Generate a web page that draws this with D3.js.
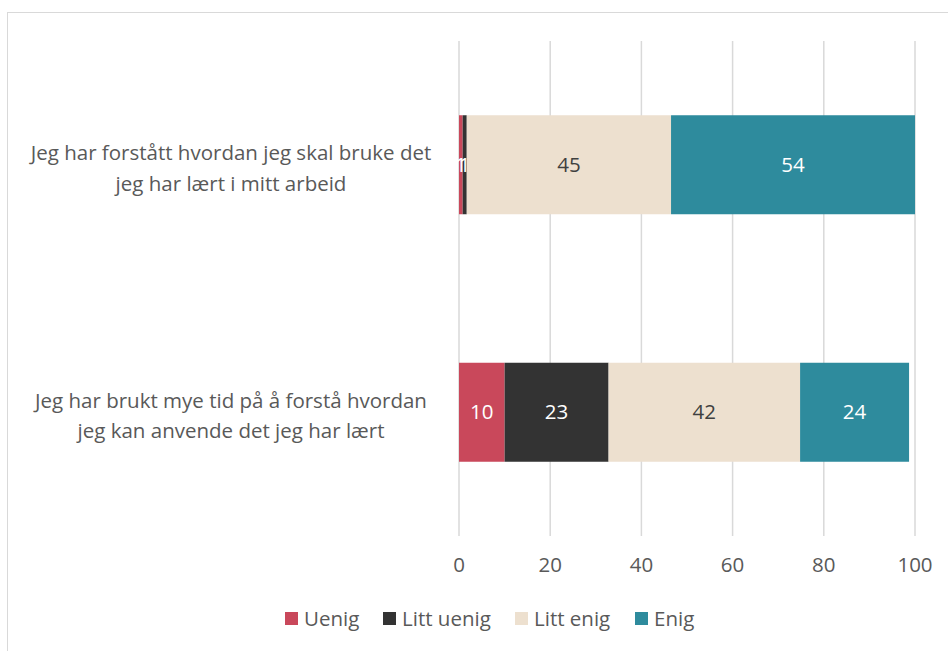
<!DOCTYPE html>
<html>
<head>
<meta charset="utf-8">
<script src="https://cdn.jsdelivr.net/npm/d3@7"></script>
<style>
body { margin: 0; background: #fff; }
text { font-family: "Open Sans", "Liberation Sans", sans-serif; }
</style>
</head>
<body>
<div id="chart"></div>
<script>
let canvasWidth = 948;
let canvasHeight = 651;

// data
let categories = [
    ["Jeg har forstått hvordan jeg skal bruke det", "jeg har lært i mitt arbeid"],
    ["Jeg har brukt mye tid på å forstå hvordan", "jeg kan anvende det jeg har lært"]
];
let seriesNames = ["Uenig", "Litt uenig", "Litt enig", "Enig"];
let uenig = [0.8, 10];
let littUenig = [0.9, 22.8];
let littEnig = [44.8, 42];
let enig = [53.5, 23.9];
let xTicks = [0, 20, 40, 60, 80, 100];
let colors = ["#C9485B", "#333333", "#EDE0CF", "#2E8B9D"];
let labelColors = ["#fff", "#fff", "#404040", "#fff"];

let series = [uenig, littUenig, littEnig, enig];

let svg = d3.select("div#chart")
    .append("svg")
    .attr("width", canvasWidth)
    .attr("height", canvasHeight);

// chart border
svg.append("rect")
    .attr("x", 7.5).attr("y", 12.5)
    .attr("width", canvasWidth).attr("height", canvasHeight)
    .attr("fill", "none")
    .attr("stroke", "#D9D9D9");

let xScale = d3.scaleLinear().domain([0, 100]).range([459, 915]);
let yScale = d3.scaleBand().domain(d3.range(categories.length)).range([41, 536]).paddingInner(0.6).paddingOuter(0.3);

// grid
svg.append("g")
    .selectAll("line")
    .data(xTicks)
    .join("line")
    .attr("x1", d => xScale(d)).attr("x2", d => xScale(d))
    .attr("y1", 41).attr("y2", 536)
    .attr("stroke", "#D9D9D9")
    .attr("stroke-width", 1.5);

// stacked rows
let rows = categories.map((c, i) => {
    let x0 = 0;
    return series.map((s, k) => {
        let seg = { cat: i, k: k, v: s[i], x0: x0, x1: x0 + s[i] };
        x0 += s[i];
        return seg;
    });
}).flat();

let bars = svg.append("g");
bars.selectAll("rect")
    .data(rows)
    .join("rect")
    .attr("x", d => xScale(d.x0))
    .attr("y", d => yScale(d.cat))
    .attr("width", d => xScale(d.x1) - xScale(d.x0))
    .attr("height", yScale.bandwidth())
    .attr("fill", d => colors[d.k]);

bars.selectAll("text")
    .data(rows)
    .join("text")
    .attr("x", d => (xScale(d.x0) + xScale(d.x1)) / 2)
    .attr("y", d => yScale(d.cat) + yScale.bandwidth() / 2)
    .attr("dy", "0.35em")
    .attr("text-anchor", "middle")
    .attr("font-size", 20.5)
    .attr("fill", d => labelColors[d.k])
    .text(d => Math.round(d.v));

// category labels
svg.append("g")
    .selectAll("text")
    .data(categories)
    .join("text")
    .attr("x", 231)
    .attr("y", (d, i) => yScale(i) + yScale.bandwidth() / 2)
    .attr("text-anchor", "middle")
    .attr("font-size", 20.5)
    .attr("fill", "#595959")
    .selectAll("tspan")
    .data(d => d)
    .join("tspan")
    .attr("x", 231)
    .attr("dy", (d, j) => j === 0 ? "-0.22em" : "1.5em")
    .text(d => d);

// x axis labels
svg.append("g")
    .selectAll("text")
    .data(xTicks)
    .join("text")
    .attr("x", d => xScale(d))
    .attr("y", 572)
    .attr("text-anchor", "middle")
    .attr("font-size", 20.5)
    .attr("fill", "#595959")
    .text(d => d);

// legend
let legendX = [285, 383, 515, 635];
let legend = svg.append("g")
    .selectAll("g")
    .data(seriesNames)
    .join("g")
    .attr("transform", (d, i) => "translate(" + legendX[i] + ", 612)");
legend.append("rect")
    .attr("width", 13).attr("height", 13)
    .attr("fill", (d, i) => colors[i]);
legend.append("text")
    .attr("x", 19).attr("y", 6.5)
    .attr("dy", "0.35em")
    .attr("font-size", 20.5)
    .attr("fill", "#595959")
    .text(d => d);
</script>
</body>
</html>
